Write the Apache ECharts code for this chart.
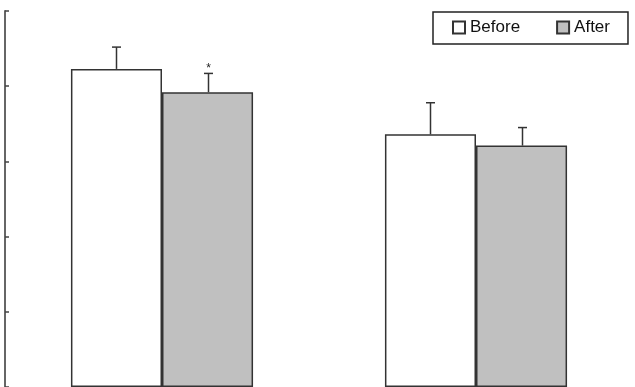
<!DOCTYPE html>
<html lang="en">
<head>
    <meta charset="UTF-8">
    <title>before_after</title>
    <script src="https://cdn.jsdelivr.net/npm/echarts@6/dist/echarts.min.js"></script>
    <style>
        html,body{margin:0;padding:0;background:#fff;}
        .main{width:635px;height:387px;}
    </style>
</head>
<body>
    <div id="main" class="main"></div>
    <script type="text/javascript">
        // data
        var categories = ['A', 'B'];
        var before = [4.23, 3.36];
        var beforeErr = [0.29, 0.42];
        var after = [3.92, 3.21];
        var afterErr = [0.25, 0.24];
        var afterMark = ['*', ''];

        var GAP = 0.42;

        // error bar (upward only) with a cap, side = -1 left bar, 1 right bar
        function errItem(side){
            return function(params, api){
                var i = api.value(0);
                var top = api.coord([i, api.value(1) + api.value(2)]);
                var base = api.coord([i, api.value(1)]);
                var catW = api.size([1, 0])[0];
                var barW = catW * (1 - GAP) / 2;
                var x = Math.round(base[0] + side * barW / 2) + 0.5;
                var style = {stroke: '#333', lineWidth: 1.5};
                var kids = [
                    {type: 'line', shape: {x1: x, y1: base[1], x2: x, y2: top[1]}, style: style},
                    {type: 'line', shape: {x1: x - 4.5, y1: top[1], x2: x + 4.5, y2: top[1]}, style: style}
                ];
                var mark = api.value(3);
                if (mark) {
                    kids.push({type: 'text', x: x, y: top[1] + 1, style: {
                        text: mark, fill: '#222', font: '12px "Liberation Sans", Arial',
                        align: 'center', verticalAlign: 'bottom'}});
                }
                return {type: 'group', children: kids};
            };
        }

        var myChart = echarts.init(document.getElementById('main'));
        var option = {
            animation: false,
            backgroundColor: '#fff',
            grid: {left: 5, top: 11, width: 628, height: 379},
            legend: {
                left: 433, top: 12,
                padding: [7, 18, 8, 19],
                itemGap: 36,
                itemWidth: 12, itemHeight: 12,
                borderColor: '#222', borderWidth: 1.5,
                icon: 'rect',
                textStyle: {fontFamily: 'Liberation Sans', fontSize: 17, color: '#111'},
                data: ['Before', 'After']
            },
            xAxis: {
                type: 'category',
                data: categories,
                axisLine: {show: false},
                axisTick: {inside: true, length: 7, lineStyle: {color: '#555', width: 1.5}},
                axisLabel: {show: false}
            },
            yAxis: {
                type: 'value', min: 0, max: 5, interval: 1,
                axisLine: {show: true, lineStyle: {color: '#666', width: 2}},
                axisTick: {show: true, inside: true, length: 4, lineStyle: {color: '#444', width: 1.5}},
                axisLabel: {show: false},
                splitLine: {show: false}
            },
            series: [
                {name: 'Before', type: 'bar', data: before, barGap: '0%', barCategoryGap: '42%',
                 itemStyle: {color: '#fff', borderColor: '#333', borderWidth: 1.5}},
                {name: 'After', type: 'bar', data: after, barGap: '0%', barCategoryGap: '42%',
                 itemStyle: {color: '#c0c0c0', borderColor: '#333', borderWidth: 1.5}},
                {type: 'custom', renderItem: errItem(-1), z: 5,
                 data: before.map(function(v, i){ return [i, v, beforeErr[i], '']; })},
                {type: 'custom', renderItem: errItem(1), z: 5,
                 data: after.map(function(v, i){ return [i, v, afterErr[i], afterMark[i]]; })}
            ]
        };
        myChart.setOption(option);
    </script>
</body>
</html>
